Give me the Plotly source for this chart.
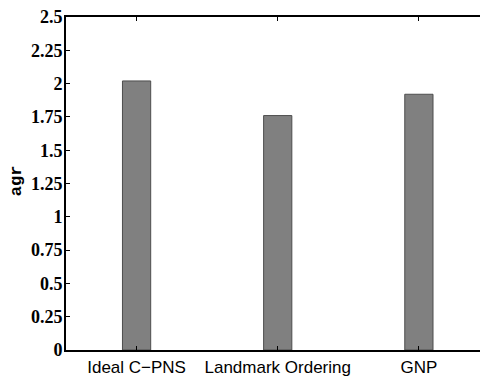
import plotly.graph_objects as go

categories = ["Ideal C\u2212PNS", "Landmark Ordering", "GNP"]
agr_values = [2.02, 1.76, 1.92]
y_tick_values = [0, 0.25, 0.5, 0.75, 1, 1.25, 1.5, 1.75, 2, 2.25, 2.5]
y_tick_labels = ["0", "0.25", "0.5", "0.75", "1", "1.25", "1.5", "1.75", "2", "2.25", "2.5"]

positions = list(range(1, len(categories) + 1))

fig = go.Figure()
fig.add_trace(go.Bar(
    x=positions, y=agr_values, width=0.2,
    marker=dict(color="#808080", line=dict(color="#4d4d4d", width=1)),
))

fig.update_layout(
    width=480, height=378,
    margin=dict(l=66, r=0, t=17, b=28),
    paper_bgcolor="white", plot_bgcolor="white",
    showlegend=False,
    xaxis=dict(
        range=[0.5, 3.433], tickvals=positions, ticktext=categories,
        showline=True, linecolor="black", linewidth=2, mirror="ticks",
        ticks="inside", ticklen=4, tickcolor="black", tickwidth=1,
        showgrid=False, zeroline=False, ticklabelstandoff=1, automargin=False,
        tickfont=dict(family="Liberation Sans, Arial, sans-serif", size=17, color="black"),
    ),
    yaxis=dict(
        range=[0, 2.5], tickvals=y_tick_values,
        ticktext=["<b>" + t + "</b>" for t in y_tick_labels],
        showline=True, linecolor="black", linewidth=2, mirror=False,
        ticks="inside", ticklen=4, tickcolor="black", tickwidth=1,
        showgrid=False, zeroline=False, ticklabelstandoff=-2, automargin=False,
        tickfont=dict(family="Liberation Serif, Times New Roman, serif", size=18, color="black"),
    ),
    annotations=[dict(
        text="<b>agr</b>", xref="paper", yref="paper", x=0, y=0.507,
        xanchor="center", yanchor="middle",
        xshift=-50, textangle=-90, showarrow=False,
        font=dict(family="Liberation Mono, Courier New, monospace", size=17, color="black"),
    )],
)

fig.write_html("out.html")
